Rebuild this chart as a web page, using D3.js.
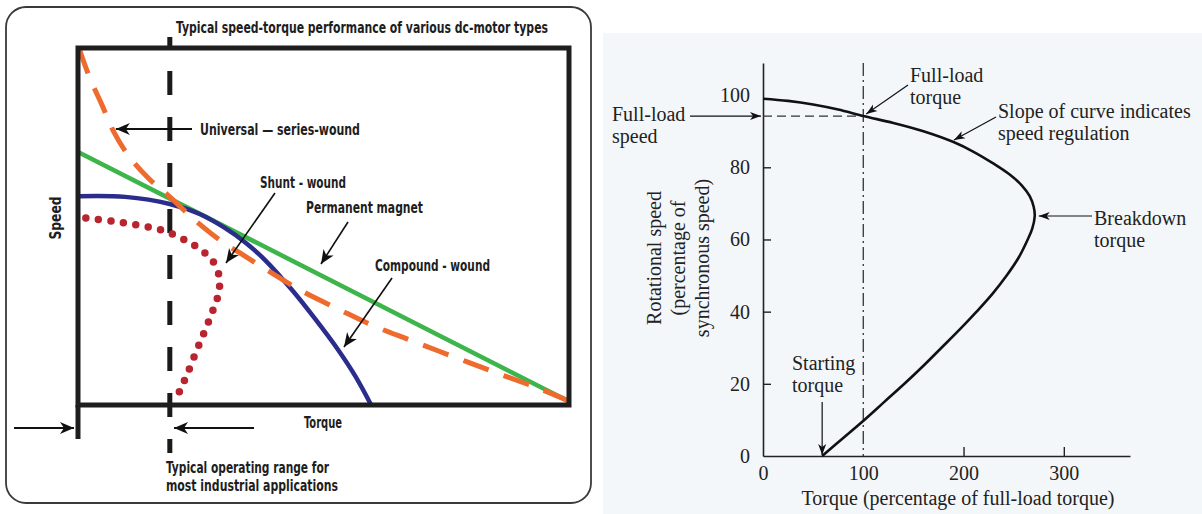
<!DOCTYPE html>
<html><head><meta charset="utf-8">
<script src="https://cdn.jsdelivr.net/npm/d3@7"></script>
<style>html,body{margin:0;padding:0;background:#fff;} svg{display:block}</style>
</head><body>
<svg id="c" width="1202" height="514"></svg>
<script>
// ---------- LEFT PANEL DATA (relative torque 0-100, relative speed 0-100) ----------
const leftTitle = "Typical speed-torque performance of various dc-motor types";
const universalTorque = [0.2,2.4,4.9,7.1,10.2,14.3,18.7,23.8,28.9,34.0,39.1,45.2,53.4,60.3,67.6,79.4,87.0,94.1,100];
const universalSpeed  = [100,91.6,84.0,77.0,70.0,63.6,58.3,51.8,46.2,41.7,37.3,32.2,26.6,22.1,18.2,12.0,8.1,4.5,1.1];
const permanentTorque = [0,100];
const permanentSpeed  = [70.9,1.0];
const compoundTorque = [0.2,9.6,18.7,24.8,29.9,34.2,38.1,43.6,48.3,53.0,56.6,59.7];
const compoundSpeed  = [58.5,58.3,56.3,53.5,49.6,45.4,40.6,32.2,24.1,15.4,7.8,0];
const shuntTorque = [1.6,6.9,12.0,17.1,21.8,24.8,27.3,28.7,28.7,27.5,25.9,24.2,22.4,20.8,19.8];
const shuntSpeed  = [52.4,51.5,50.4,49.0,46.2,43.7,40.6,36.4,31.7,26.6,21.0,15.4,9.2,4.2,1.1];
const operatingRangeTorque = 18.7;

// ---------- RIGHT PANEL DATA (torque % of full-load, speed % of synchronous) ----------
const inductionTorque = [0,25,50,75,100,130,160,190,210,230,246,258,266,270,271,268.5,264,255,243,229,213,196,178,160,141,121,101,80,59];
const inductionSpeed  = [99,98.4,97.4,96,94.2,92.3,90,87,84.3,81,78,75,72,69,66.5,63,60,55,50,45,40,35,30,25,20,15,10,5,0];
const xTicks = [0,100,200,300];
const yTicks = [0,20,40,60,80,100];
const fullLoadTorque = 100, fullLoadSpeed = 94.2;
const startingTorque = 59;
const breakdownTorque = 271, breakdownSpeed = 66.5;

const svg = d3.select("#c");

// ================= LEFT PANEL =================
svg.append("rect").attr("x",6).attr("y",7).attr("width",585).attr("height",496)
  .attr("rx",20).attr("fill","#fff").attr("stroke","#3a3a3a").attr("stroke-width",1.8);

const lx = d3.scaleLinear().domain([0,100]).range([78,569]);
const ly = d3.scaleLinear().domain([0,100]).range([405,48]);
const lfont = "'Liberation Sans Narrow','DejaVu Sans Condensed',sans-serif";

const defs = svg.append("defs");
defs.append("marker").attr("id","ahL").attr("viewBox","-14 -7 16 14")
  .attr("markerUnits","userSpaceOnUse").attr("markerWidth",16).attr("markerHeight",14)
  .attr("refX",0).attr("refY",0).attr("orient","auto")
  .append("path").attr("d","M0,0 L-14,-6 L-10,0 L-14,6 Z").attr("fill","#111");
defs.append("marker").attr("id","ahR").attr("viewBox","-12 -5 14 10")
  .attr("markerUnits","userSpaceOnUse").attr("markerWidth",14).attr("markerHeight",10)
  .attr("refX",0).attr("refY",0).attr("orient","auto")
  .append("path").attr("d","M0,0 L-11,-4 L-8,0 L-11,4 Z").attr("fill","#111");

// operating-range dashed line
svg.append("line").attr("x1",lx(operatingRangeTorque)).attr("x2",lx(operatingRangeTorque))
  .attr("y1",37).attr("y2",453).attr("stroke","#1a1a1a").attr("stroke-width",5)
  .attr("stroke-dasharray","24,22").attr("stroke-dashoffset",12);

const lline = d3.line().x(d=>lx(d[0])).y(d=>ly(d[1])).curve(d3.curveCatmullRom.alpha(0.5));
const zipL = (a,b)=>a.map((v,i)=>[v,b[i]]);

svg.append("path").attr("d",lline(zipL(permanentTorque,permanentSpeed))).attr("fill","none")
  .attr("stroke","#3db54a").attr("stroke-width",4.5);
svg.append("path").attr("d",lline(zipL(compoundTorque,compoundSpeed))).attr("fill","none")
  .attr("stroke","#2a2d8c").attr("stroke-width",4.5);
svg.append("path").attr("d",lline(zipL(universalTorque,universalSpeed))).attr("fill","none")
  .attr("stroke","#ef6a2d").attr("stroke-width",5).attr("stroke-dasharray","27,16");
svg.append("path").attr("d",lline(zipL(shuntTorque,shuntSpeed))).attr("fill","none")
  .attr("stroke","#b8242f").attr("stroke-width",7.5).attr("stroke-linecap","round")
  .attr("stroke-dasharray","0,12.6");

// frame
svg.append("path").attr("d",`M${lx(0)},${ly(100)} H${lx(100)} V${ly(0)} H${lx(0)} Z`)
  .attr("fill","none").attr("stroke","#1e1e1e").attr("stroke-width",5).attr("stroke-linejoin","miter");
svg.append("line").attr("x1",lx(0)).attr("x2",lx(0)).attr("y1",ly(0)).attr("y2",439)
  .attr("stroke","#1e1e1e").attr("stroke-width",5);

function ltext(t,x,y,len,opts={}){
  const el = svg.append("text").attr("x",x).attr("y",y).text(t)
    .attr("font-family",lfont).attr("font-weight","bold").attr("font-size",opts.size||15)
    .attr("fill","#1e1e1e");
  if(len) el.attr("textLength",len).attr("lengthAdjust","spacingAndGlyphs");
  if(opts.rotate) el.attr("transform",`rotate(-90,${x},${y})`).attr("text-anchor","middle");
  return el;
}
function arrow(x1,y1,x2,y2,m,w){
  svg.append("line").attr("x1",x1).attr("y1",y1).attr("x2",x2).attr("y2",y2)
    .attr("stroke","#111").attr("stroke-width",w).attr("marker-end",`url(#${m})`);
}
ltext(leftTitle,176,33,372);
ltext("Universal — series-wound",200,135,160);
ltext("Shunt - wound",260,188,86);
ltext("Permanent magnet",306,213,117);
ltext("Compound - wound",375,271,115);
ltext("Torque",304,428,38,{size:16});
ltext("Typical operating range for",166,473,163,{size:16});
ltext("most industrial applications",166,491,172,{size:16});
ltext("Speed",61,218,43,{rotate:true});

arrow(192,129,lx(universalTorque[3])+3,129,"ahL",2);
arrow(275,193,226,263,"ahL",1.6);
arrow(348,222,321,264,"ahL",1.6);
arrow(392,278,344,347,"ahL",1.6);
arrow(14,428,74,428,"ahL",2);
arrow(254,428,174,428,"ahL",2);

// ================= RIGHT PANEL =================
svg.append("rect").attr("x",603).attr("y",33).attr("width",599).attr("height",481).attr("fill","#f3f7fa");

const rx = d3.scaleLinear().domain([0,366]).range([763,1130]);
const ry = d3.scaleLinear().domain([0,108.9]).range([456,63]);
const rfont = "'Liberation Serif','Times New Roman',serif";

const xAxis = svg.append("g").attr("transform",`translate(0,${ry(0)})`)
  .call(d3.axisBottom(rx).tickValues(xTicks).tickSizeInner(-9).tickSizeOuter(0).tickPadding(10));
const yAxis = svg.append("g").attr("transform",`translate(${rx(0)},0)`)
  .call(d3.axisLeft(ry).tickValues(yTicks).tickSizeInner(-8).tickSizeOuter(0).tickPadding(13));
[xAxis,yAxis].forEach(g=>{
  g.selectAll("path.domain").attr("stroke","#222").attr("stroke-width",1.6);
  g.selectAll(".tick line").attr("stroke","#222").attr("stroke-width",1.4);
  g.selectAll(".tick text").attr("font-family",rfont).attr("font-size",20).attr("fill","#222");
});
xAxis.selectAll(".tick").filter(d=>d===0||d===100).select("line").remove();
yAxis.selectAll(".tick").filter(d=>d===0||d===100).select("line").remove();

// full-load torque dash-dot line
svg.append("line").attr("x1",rx(fullLoadTorque)).attr("x2",rx(fullLoadTorque))
  .attr("y1",ry(108.9)).attr("y2",ry(0)).attr("stroke","#333").attr("stroke-width",1.3)
  .attr("stroke-dasharray","13,4,2,4");
// full-load speed dashed line
svg.append("line").attr("x1",rx(0)).attr("x2",rx(fullLoadTorque))
  .attr("y1",ry(fullLoadSpeed)).attr("y2",ry(fullLoadSpeed)).attr("stroke","#333").attr("stroke-width",1.3)
  .attr("stroke-dasharray","9,5");

const rline = d3.line().x(d=>rx(d[0])).y(d=>ry(d[1])).curve(d3.curveCatmullRom.alpha(0.5));
svg.append("path").attr("d",rline(zipL(inductionTorque,inductionSpeed))).attr("fill","none")
  .attr("stroke","#111").attr("stroke-width",2.6);

function rtext(t,x,y,opts={}){
  const el = svg.append("text").attr("x",x).attr("y",y).text(t)
    .attr("font-family",rfont).attr("font-size",opts.size||20).attr("fill","#222");
  if(opts.anchor) el.attr("text-anchor",opts.anchor);
  if(opts.rotate) el.attr("transform",`rotate(-90,${x},${y})`);
  return el;
}
rtext("Full-load",612,121); rtext("speed",612,143);
rtext("Full-load",910,82); rtext("torque",910,104);
rtext("Slope of curve indicates",998,118); rtext("speed regulation",998,140);
rtext("Breakdown",1094,225); rtext("torque",1094,247);
rtext("Starting",792,370); rtext("torque",792,392);
rtext("Torque (percentage of full-load torque)",958,505,{anchor:"middle"});
rtext("Rotational speed",661,258,{anchor:"middle",rotate:true});
rtext("(percentage of",685,258,{anchor:"middle",rotate:true});
rtext("synchronous speed)",709,258,{anchor:"middle",rotate:true});

arrow(690,ry(fullLoadSpeed),rx(0)-2,ry(fullLoadSpeed),"ahR",1.2);
arrow(908,85,rx(fullLoadTorque)+3,ry(fullLoadSpeed)-2,"ahR",1.2);
arrow(996,117,954,140,"ahR",1.2);
arrow(1092,ry(breakdownSpeed),rx(breakdownTorque)+4,ry(breakdownSpeed),"ahR",1.2);
arrow(rx(startingTorque),402,rx(startingTorque),ry(0)-1,"ahR",1.2);
</script>
</body></html>
